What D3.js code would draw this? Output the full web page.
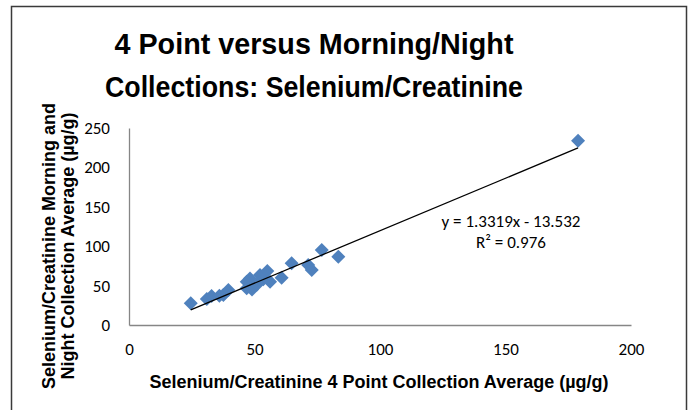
<!DOCTYPE html>
<html>
<head>
<meta charset="utf-8">
<script src="https://cdn.jsdelivr.net/npm/d3@7"></script>
<style>
html,body{margin:0;padding:0;background:#fff;}
svg{display:block;}
</style>
</head>
<body>
<svg id="chart" width="692" height="410"></svg>
<script>
const titleLines = ["4 Point versus Morning/Night", "Collections: Selenium/Creatinine"];
const xTitle = "Selenium/Creatinine 4 Point Collection Average (µg/g)";
const yTitleLines = ["Selenium/Creatinine Morning and", "Night Collection Average (µg/g)"];
const xTicks = [0, 50, 100, 150, 200];
const yTicks = [0, 50, 100, 150, 200, 250];
const fourPoint = [24.6, 31.0, 32.9, 36.0, 37.6, 39.6, 46.9, 46.9, 48.2, 49.0, 50.9, 52.2, 53.5, 55.1, 56.2, 60.8, 64.8, 71.4, 72.8, 76.8, 83.4, 178.9];
const morningNight = [27.5, 33.0, 36.8, 37.0, 38.0, 44.4, 46.5, 55.0, 59.0, 45.0, 51.0, 63.5, 58.0, 68.5, 55.0, 60.0, 78.3, 76.0, 69.8, 95.2, 86.7, 233.9];
const slope = 1.3319, intercept = -13.532;
const eqLines = ["y = 1.3319x - 13.532", "R² = 0.976"];

const svg = d3.select("#chart");
const x = d3.scaleLinear().domain([0, 200]).range([129, 631]);
const y = d3.scaleLinear().domain([0, 250]).range([325, 128]);

// chart frame
svg.append("path")
  .attr("d", "M11.5,420 L11.5,6.5 L686.5,6.5 L686.5,420")
  .attr("fill", "none").attr("stroke", "#3a3a3a").attr("stroke-width", 1.5);

// title (slightly condensed like the original)
const tf = "'Liberation Sans', Arial, sans-serif";
const titleWidths = [399, 418];
svg.append("g").selectAll("text").data(titleLines).join("text")
  .attr("x", 314).attr("y", (d, i) => 54 + i * 43)
  .attr("text-anchor", "middle")
  .attr("font-family", tf).attr("font-weight", "bold").attr("font-size", 29)
  .attr("textLength", (d, i) => titleWidths[i]).attr("lengthAdjust", "spacingAndGlyphs")
  .attr("fill", "#000").text(d => d);

// axes
const tickFont = "Carlito, 'Open Sans', 'Liberation Sans', sans-serif";
const xAxis = svg.append("g").attr("transform", "translate(0,325)")
  .call(d3.axisBottom(x).tickValues(xTicks).tickSize(0).tickPadding(18));
const yAxis = svg.append("g").attr("transform", "translate(129,0)")
  .call(d3.axisLeft(y).tickValues(yTicks).tickSize(0).tickPadding(19));
[xAxis, yAxis].forEach(g => {
  g.select(".domain").attr("stroke", "#868686").attr("stroke-width", 1.3);
  g.selectAll("text").attr("font-family", tickFont).attr("font-size", 17).attr("fill", "#000");
});

// axis titles
svg.append("text").attr("x", 379).attr("y", 388).attr("text-anchor", "middle")
  .attr("font-family", tf).attr("font-weight", "bold").attr("font-size", 18)
  .text(xTitle);
svg.append("g").selectAll("text").data(yTitleLines).join("text")
  .attr("transform", (d, i) => `translate(${55 + i * 19},246) rotate(-90)`)
  .attr("text-anchor", "middle")
  .attr("font-family", tf).attr("font-weight", "bold").attr("font-size", 18)
  .text(d => d);

// points
svg.append("g").selectAll("path").data(fourPoint.map((v, i) => [v, morningNight[i]])).join("path")
  .attr("transform", d => `translate(${x(d[0])},${y(d[1])}) rotate(45)`)
  .attr("d", d3.symbol().type(d3.symbolSquare).size(98))
  .attr("fill", "#4f81bd");

// linear trend line (drawn above markers)
const xMin = d3.min(fourPoint), xMax = d3.max(fourPoint);
svg.append("line")
  .attr("x1", x(xMin)).attr("y1", y(slope * xMin + intercept))
  .attr("x2", x(xMax)).attr("y2", y(slope * xMax + intercept))
  .attr("stroke", "#000").attr("stroke-width", 1.3);

// equation
svg.append("g").selectAll("text").data(eqLines).join("text")
  .attr("x", 511).attr("y", (d, i) => 227 + i * 21)
  .attr("text-anchor", "middle")
  .attr("font-family", tickFont).attr("font-size", 17).attr("fill", "#000")
  .text(d => d);
</script>
</body>
</html>
